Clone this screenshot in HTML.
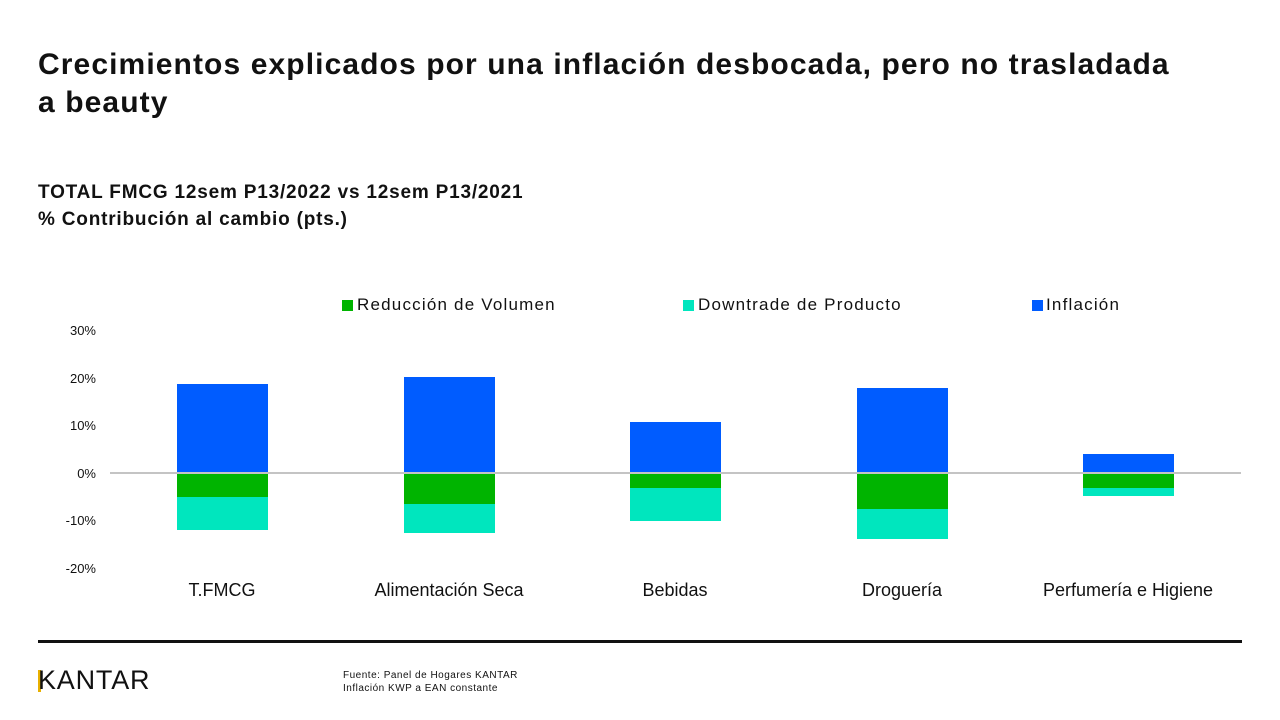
<!DOCTYPE html>
<html><head><meta charset="utf-8"><style>
body{margin:0;width:1280px;height:720px;background:#fff;position:relative;overflow:hidden;font-family:"Liberation Sans",sans-serif;color:#111}
.a{position:absolute;white-space:nowrap}
.t{left:38px;top:46px;font-size:30px;font-weight:bold;line-height:38px;letter-spacing:1.1px}
.s{left:38px;top:179px;font-size:19px;font-weight:bold;line-height:27px;letter-spacing:0.8px}
.y{font-size:13px;width:60px;text-align:right;left:36px}
.b{position:absolute;width:91px}
.c{font-size:18px;width:240px;text-align:center;top:580px}
.l{font-size:17px;top:295px;letter-spacing:1.2px}
.sq{position:absolute;width:11px;height:11px;top:300px}
</style></head><body>
<div class="a t">Crecimientos explicados por una inflación desbocada, pero no trasladada<br>a beauty</div>
<div class="a s">TOTAL FMCG 12sem P13/2022 vs 12sem P13/2021<br>% Contribución al cambio (pts.)</div>

<div class="sq" style="left:342px;background:#00b400"></div><div class="a l" style="left:357px">Reducción de Volumen</div>
<div class="sq" style="left:683px;background:#00e6be"></div><div class="a l" style="left:698px">Downtrade de Producto</div>
<div class="sq" style="left:1032px;background:#005cff"></div><div class="a l" style="left:1046px">Inflación</div>

<div class="a y" style="top:323px">30%</div>
<div class="a y" style="top:371px">20%</div>
<div class="a y" style="top:418px">10%</div>
<div class="a y" style="top:466px">0%</div>
<div class="a y" style="top:513px">-10%</div>
<div class="a y" style="top:561px">-20%</div>

<div class="b" style="left:177px;top:384px;height:90px;background:#005cff"></div>
<div class="b" style="left:177px;top:473px;height:24px;background:#00b400"></div>
<div class="b" style="left:177px;top:497px;height:33px;background:#00e6be"></div>

<div class="b" style="left:404px;top:377px;height:97px;background:#005cff"></div>
<div class="b" style="left:404px;top:473px;height:31px;background:#00b400"></div>
<div class="b" style="left:404px;top:504px;height:29px;background:#00e6be"></div>

<div class="b" style="left:630px;top:422px;height:52px;background:#005cff"></div>
<div class="b" style="left:630px;top:473px;height:15px;background:#00b400"></div>
<div class="b" style="left:630px;top:488px;height:33px;background:#00e6be"></div>

<div class="b" style="left:857px;top:388px;height:86px;background:#005cff"></div>
<div class="b" style="left:857px;top:473px;height:36px;background:#00b400"></div>
<div class="b" style="left:857px;top:509px;height:30px;background:#00e6be"></div>

<div class="b" style="left:1083px;top:454px;height:20px;background:#005cff"></div>
<div class="b" style="left:1083px;top:473px;height:15px;background:#00b400"></div>
<div class="b" style="left:1083px;top:488px;height:8px;background:#00e6be"></div>

<div class="a" style="left:110px;top:472px;width:1131px;height:2px;background:#c4c4c4"></div>

<div class="a c" style="left:102px">T.FMCG</div>
<div class="a c" style="left:329px">Alimentación Seca</div>
<div class="a c" style="left:555px">Bebidas</div>
<div class="a c" style="left:782px">Droguería</div>
<div class="a c" style="left:1008px">Perfumería e Higiene</div>

<div class="a" style="left:38px;top:640px;width:1204px;height:3px;background:#111"></div>
<div class="a" style="left:38px;top:670px;width:3px;height:22px;background:#e8b000"></div>
<div class="a" style="left:38px;top:665px;font-size:27px;letter-spacing:0.8px">KANTAR</div>
<div class="a" style="left:343px;top:669px;font-size:10px;line-height:13px;letter-spacing:0.5px">Fuente: Panel de Hogares KANTAR<br>Inflación KWP a EAN constante</div>
</body></html>
